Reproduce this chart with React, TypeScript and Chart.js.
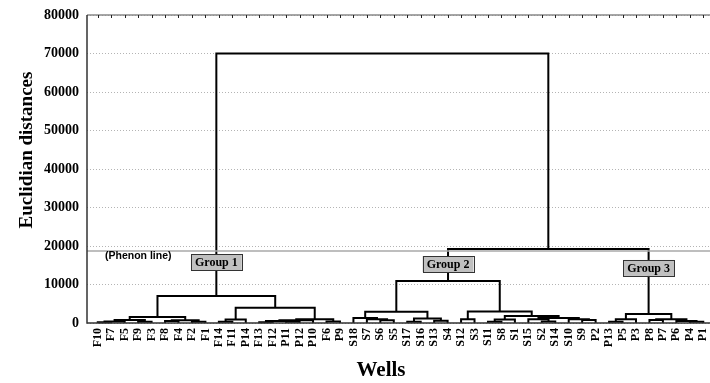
import React, { useEffect, useRef } from "react";
import { Chart, registerables } from "chart.js";

Chart.register(...registerables);

const leaves = [
  "F10", "F7", "F5", "F9", "F3", "F8", "F4", "F2", "F1", "F14", "F11", "P14",
  "F13", "F12", "P11", "P12", "P10", "F6", "P9", "S18", "S7", "S6", "S5", "S17",
  "S16", "S13", "S4", "S12", "S3", "S11", "S8", "S1", "S15", "S2", "S14", "S10",
  "S9", "P2", "P13", "P5", "P3", "P8", "P7", "P6", "P4", "P1",
];

// each row defines node n{row index}: [left child, right child, merge height]
const links: [string, string, number][] = [
  ["F10", "F7", 200],   // n0
  ["n0", "F5", 400],    // n1
  ["F9", "F3", 300],    // n2
  ["n1", "n2", 800],    // n3
  ["F8", "F4", 500],    // n4
  ["F2", "F1", 300],    // n5
  ["n4", "n5", 700],    // n6
  ["n3", "n6", 1550],   // n7
  ["F14", "F11", 300],  // n8
  ["n8", "P14", 900],   // n9
  ["F13", "F12", 200],  // n10
  ["P11", "P12", 300],  // n11
  ["n10", "n11", 500],  // n12
  ["n12", "P10", 700],  // n13
  ["F6", "P9", 400],    // n14
  ["n13", "n14", 1000], // n15
  ["n9", "n15", 3950],  // n16
  ["n7", "n16", 7000],  // n17  Group 1
  ["S6", "S5", 700],    // n18
  ["S7", "n18", 1000],  // n19
  ["S18", "n19", 1300], // n20
  ["S17", "S16", 300],  // n21
  ["S13", "S4", 600],   // n22
  ["n21", "n22", 1200], // n23
  ["n20", "n23", 2900], // n24
  ["S12", "S3", 1000],  // n25
  ["S11", "S8", 300],   // n26
  ["n26", "S1", 900],   // n27
  ["S2", "S14", 400],   // n28
  ["S15", "n28", 1000], // n29
  ["S9", "P2", 800],    // n30
  ["S10", "n30", 1000], // n31
  ["n29", "n31", 1300], // n32
  ["n27", "n32", 1800], // n33
  ["n25", "n33", 3000], // n34
  ["n24", "n34", 10900],// n35  Group 2
  ["P13", "P5", 300],   // n36
  ["n36", "P3", 1000],  // n37
  ["P8", "P7", 800],    // n38
  ["P4", "P1", 300],    // n39
  ["P6", "n39", 500],   // n40
  ["n38", "n40", 1000], // n41
  ["n37", "n41", 2350], // n42  Group 3
  ["n35", "n42", 19200],// n43
  ["n17", "n43", 70000],// n44
];

const yTicks = [0, 10000, 20000, 30000, 40000, 50000, 60000, 70000, 80000];
const groupLabels = ["Group 1", "Group 2", "Group 3"];
const groupNodes = ["n17", "n35", "n42"];
const groupLabelY = [15800, 15300, 14300];
const phenonLevel = 18700;
const phenonText = "(Phenon line)";
const yTitle = "Euclidian distances";
const xTitle = "Wells";

const SERIF = "'Liberation Serif', 'Times New Roman', serif";
const SANS = "'Liberation Sans', Arial, sans-serif";

export default function App() {
  const ref = useRef<HTMLCanvasElement | null>(null);

  useEffect(() => {
    if (!ref.current) return;
    const pos: Record<string, { x: number; h: number }> = {};
    leaves.forEach((n, i) => (pos[n] = { x: i, h: 0 }));
    const linkSets: any[] = [];
    links.forEach(([l, r, h], i) => {
      const a = pos[l];
      const b = pos[r];
      pos["n" + i] = { x: (a.x + b.x) / 2, h };
      linkSets.push({
        data: [
          { x: a.x, y: a.h },
          { x: a.x, y: h },
          { x: b.x, y: h },
          { x: b.x, y: b.h },
        ],
        borderColor: "#000",
        borderWidth: 2,
        pointRadius: 0,
        tension: 0,
        fill: false,
        clip: false,
        borderJoinStyle: "miter",
      });
    });
    const xMin = -0.8;
    const xMax = 45.5;
    const phenonSet = {
      data: [
        { x: xMin, y: phenonLevel },
        { x: xMax, y: phenonLevel },
      ],
      borderColor: "#a8a8a8",
      borderWidth: 1.5,
      pointRadius: 0,
      fill: false,
    };

    const decor = {
      id: "decor",
      afterDatasetsDraw(chart: any) {
        const ctx = chart.ctx;
        const { left, right, top, bottom } = chart.chartArea;
        const xs = chart.scales.x;
        const ys = chart.scales.y;
        ctx.save();
        // axes
        ctx.strokeStyle = "#888";
        ctx.lineWidth = 1.5;
        ctx.beginPath();
        ctx.moveTo(left, top);
        ctx.lineTo(right, top);
        ctx.stroke();
        ctx.strokeStyle = "#222";
        ctx.lineWidth = 1;
        leaves.forEach((_, i) => {
          const px = Math.round(xs.getPixelForValue(i)) + 0.5;
          ctx.beginPath();
          ctx.moveTo(px, top);
          ctx.lineTo(px, top + 3);
          ctx.stroke();
        });
        ctx.strokeStyle = "#333";
        ctx.lineWidth = 1.5;
        ctx.beginPath();
        ctx.moveTo(left, top);
        ctx.lineTo(left, bottom);
        ctx.lineTo(right, bottom);
        ctx.stroke();

        // phenon text
        ctx.fillStyle = "#000";
        ctx.font = `bold 10.5px ${SANS}`;
        ctx.textAlign = "left";
        ctx.textBaseline = "middle";
        ctx.fillText(phenonText, left + 18, ys.getPixelForValue(phenonLevel) + 5);

        // group boxes
        ctx.font = `bold 12px ${SERIF}`;
        groupLabels.forEach((t, i) => {
          const cx = xs.getPixelForValue(pos[groupNodes[i]].x);
          const cy = ys.getPixelForValue(groupLabelY[i]);
          const w = ctx.measureText(t).width + 8;
          const h = 16;
          ctx.fillStyle = "#c0c0c0";
          ctx.fillRect(cx - w / 2, cy - h / 2, w, h);
          ctx.strokeStyle = "#333";
          ctx.lineWidth = 1;
          ctx.strokeRect(Math.round(cx - w / 2) + 0.5, Math.round(cy - h / 2) + 0.5, Math.round(w), h);
          ctx.fillStyle = "#000";
          ctx.textAlign = "center";
          ctx.textBaseline = "middle";
          ctx.fillText(t, cx, cy + 1);
        });

        // titles
        ctx.font = `bold 21px ${SERIF}`;
        ctx.textAlign = "center";
        ctx.textBaseline = "middle";
        ctx.fillText(xTitle, 381, 371);
        ctx.translate(27, 150);
        ctx.rotate(-Math.PI / 2);
        ctx.font = `bold 19px ${SERIF}`;
        ctx.fillText(yTitle, 0, 0);
        ctx.restore();
      },
    };

    const chart = new Chart(ref.current, {
      type: "line",
      data: { datasets: [phenonSet, ...linkSets] as any },
      options: {
        responsive: false,
        animation: false,
        layout: { padding: { top: 15, left: 0, right: 0, bottom: 0 } },
        plugins: { legend: { display: false }, tooltip: { enabled: false } },
        scales: {
          x: {
            type: "linear",
            min: xMin,
            max: xMax,
            afterBuildTicks: (s: any) => {
              s.ticks = leaves.map((_, i) => ({ value: i }));
            },
            ticks: {
              autoSkip: false,
              minRotation: 90,
              maxRotation: 90,
              padding: 5,
              color: "#000",
              font: { family: SERIF, weight: "bold", size: 12 },
              callback: (_v: any, i: number) => leaves[i],
            },
            grid: { display: false, drawTicks: false },
            border: { display: false },
            afterFit: (s: any) => {
              s.height = 60;
              s.paddingLeft = 0;
              s.paddingRight = 0;
            },
          },
          y: {
            min: 0,
            max: 80000,
            afterBuildTicks: (s: any) => {
              s.ticks = yTicks.map((v) => ({ value: v }));
            },
            ticks: {
              padding: 8,
              color: "#000",
              font: { family: SERIF, weight: "bold", size: 14 },
              callback: (v: any) => String(v),
            },
            grid: { color: "#b4b4b4", lineWidth: 1, drawTicks: false },
            border: { display: false, dash: [1, 2] },
            afterFit: (s: any) => {
              s.width = 87;
              s.paddingTop = 0;
              s.paddingBottom = 0;
            },
          },
        },
      } as any,
      plugins: [decor],
    });
    return () => chart.destroy();
  }, []);

  return (
    <div style={{ position: "fixed", left: 0, top: 0, width: 710, height: 383, background: "#fff" }}>
      <canvas ref={ref} width={710} height={383} style={{ display: "block" }} />
    </div>
  );
}
